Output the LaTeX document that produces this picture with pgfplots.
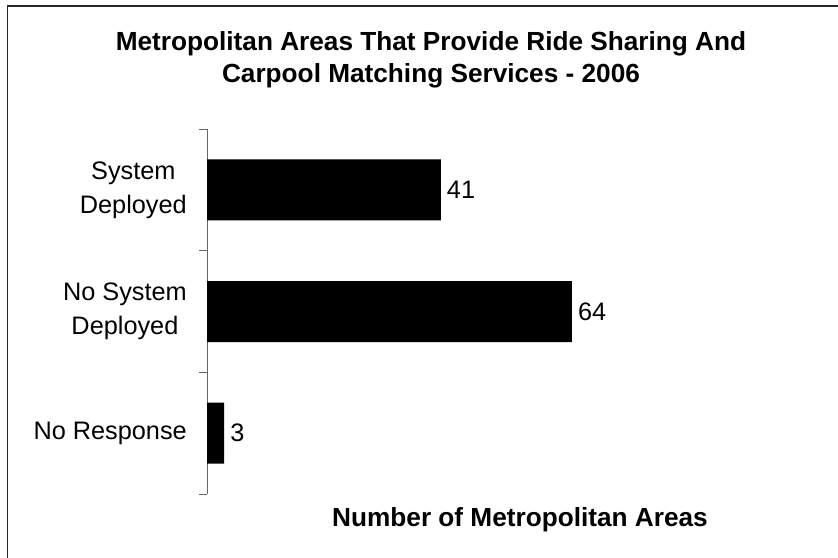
\documentclass[border=0pt]{standalone}
\usepackage{fontspec}
\setmainfont{Liberation Sans}
\usepackage{pgfplots}
\pgfplotsset{compat=1.18}
\begin{document}
\begin{tikzpicture}
\useasboundingbox (0,0) rectangle (838bp,558bp);
\fill[white] (0,0) rectangle (838bp,558bp);
\draw[line width=1.3bp, black!85] (7.7bp,0) -- (7.7bp,552bp) -- (838bp,552bp);
\node[anchor=base, font=\fontsize{26.2bp}{30bp}\selectfont\bfseries] at (431bp,507bp) {Metropolitan Areas That Provide Ride Sharing And};
\node[anchor=base, font=\fontsize{26.2bp}{30bp}\selectfont\bfseries] at (431bp,475bp) {Carpool Matching Services - 2006};
\node[anchor=base, font=\fontsize{26.2bp}{30bp}\selectfont\bfseries] at (520bp,32bp) {Number of Metropolitan Areas};
\begin{axis}[
  at={(207bp,64bp)}, anchor=south west,
  scale only axis, width=626bp, height=365bp,
  xbar, bar width=61bp, bar shift=0pt,
  xmin=0, xmax=109.8,
  ymin=-0.5, ymax=2.5, y dir=reverse,
  axis y line*=left, axis x line=none,
  y axis line style={black!60, line width=1bp, -},
  ytick={0,1,2},
  yticklabels={System\\Deployed, No System\\Deployed, No Response},
  major tick length=0pt,
  minor ytick={-0.5,0.5,1.5,2.5},
  minor tick length=8bp,
  tick align=outside,
  minor tick style={black!60, line width=1bp},
  yticklabel style={align=center, font=\fontsize{25.3bp}{34bp}\selectfont, inner sep=0pt, xshift=-20bp},
  nodes near coords,
  nodes near coords style={font=\fontsize{25.3bp}{30bp}\selectfont, anchor=west, inner sep=0pt, xshift=6bp, black},
  /pgf/number format/assume math mode=true,
  clip=false,
]
\addplot[fill=black, draw=none] coordinates {(41,0) (64,1) (3,2)};
\end{axis}
\end{tikzpicture}
\end{document}
